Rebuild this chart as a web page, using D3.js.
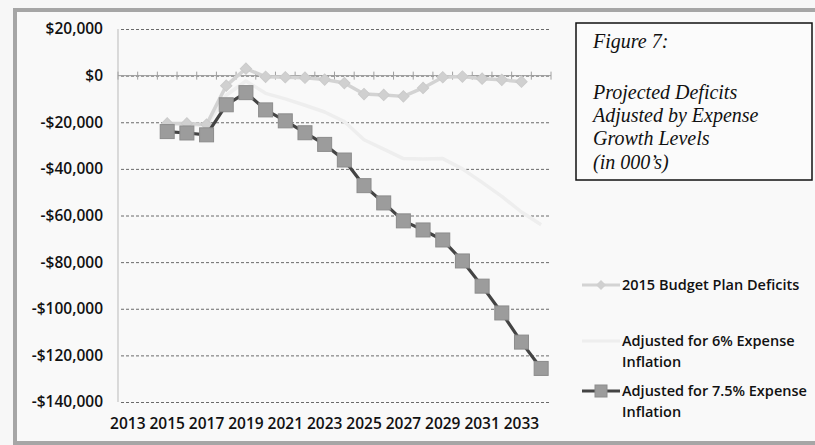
<!DOCTYPE html>
<html>
<head>
<meta charset="utf-8">
<script src="https://cdn.jsdelivr.net/npm/d3@7/dist/d3.min.js"></script>
<style>
  html, body { margin: 0; padding: 0; background: #f7f7f7; }
  svg { display: block; }
</style>
</head>
<body>
<svg id="chart" width="815" height="445"></svg>
<script>
// ---------------- DATA ----------------
const categories = ["2013","2014","2015","2016","2017","2018","2019","2020","2021","2022","2023",
                    "2024","2025","2026","2027","2028","2029","2030","2031","2032","2033","2034"];
const xTickLabels = ["2013","2015","2017","2019","2021","2023","2025","2027","2029","2031","2033"];
const yTicks = [20000, 0, -20000, -40000, -60000, -80000, -100000, -120000, -140000];

const budgetPlan = [null, null, -20500, -20500, -21000, -4300, 3000, -500, -700, -900, -1700,
                    -3200, -7900, -8300, -8900, -5300, -700, -400, -1300, -1800, -2600, null];
const adjusted6 = [null, null, -20800, -21000, -21500, -8400, -2300, -7600, -10000, -12700, -15600,
                   -19700, -27500, -31500, -35600, -35800, -35600, -40000, -45800, -51800, -58500, -64000];
const adjusted75 = [null, null, -24000, -24600, -25400, -12500, -7300, -14700, -19400, -24500, -29500,
                    -36200, -47200, -54600, -62300, -66200, -70500, -79500, -90300, -101800, -114300, -125600];

const seriesNames = ["2015 Budget Plan Deficits", "Adjusted for 6% Expense Inflation", "Adjusted for 7.5% Expense Inflation"];
const titleLines = ["Figure 7:", "", "Projected Deficits", "Adjusted by Expense", "Growth Levels", "(in 000\u2019s)"];

// ---------------- LAYOUT ----------------
const svg = d3.select("#chart");
const L = 118, R = 551, T = 29, B = 402;
const labelFont = "'Open Sans', 'Liberation Sans', sans-serif";

// outer frame
svg.append("rect").attr("x", 0).attr("y", 0).attr("width", 815).attr("height", 445).attr("fill", "#f7f7f7");
svg.append("rect").attr("x", 15).attr("y", 10).attr("width", 820).attr("height", 433)
  .attr("fill", "#f9f9f9").attr("stroke", "#a6a6a6").attr("stroke-width", 4);

const x = d3.scaleBand().domain(categories).range([L, R]);
const y = d3.scaleLinear().domain([-140000, 20000]).range([B, T]);

function fmt(v) {
  if (v === 0) return "$0";
  const s = d3.format(",")(Math.abs(v));
  return (v < 0 ? "-$" : "$") + s;
}

// gridlines + y labels
const yAxis = svg.append("g").attr("transform", `translate(${L},0)`)
  .call(d3.axisLeft(y).tickValues(yTicks).tickFormat(fmt).tickSize(0).tickPadding(15));
yAxis.select(".domain").remove();
yAxis.selectAll("text").attr("font-family", labelFont).attr("font-weight", 600)
  .attr("font-size", 15.5).attr("fill", "#111");

const grid = svg.append("g").attr("transform", `translate(${L},0)`)
  .call(d3.axisLeft(y).tickValues(yTicks).tickFormat("").tickSize(-(R - L)).tickSizeOuter(0));
grid.select(".domain").remove();
grid.selectAll("line").attr("stroke", "#6a6a6a").attr("stroke-width", 1)
  .attr("stroke-dasharray", "3,2").attr("x1", 3);

// vertical axis line
svg.append("line").attr("x1", L).attr("x2", L).attr("y1", T).attr("y2", B)
  .attr("stroke", "#c4c4c4").attr("stroke-width", 1.2);

// horizontal category axis at zero, with tick marks at category boundaries
const zeroY = y(0);
svg.append("line").attr("x1", L).attr("x2", R).attr("y1", zeroY).attr("y2", zeroY)
  .attr("stroke", "#9a9a9a").attr("stroke-width", 1);
const boundaries = categories.map(c => x(c)).concat([x(categories[categories.length - 1]) + x.bandwidth()]);
svg.append("g").selectAll("line").data(boundaries).join("line")
  .attr("x1", d => d).attr("x2", d => d).attr("y1", zeroY - 4).attr("y2", zeroY + 4)
  .attr("stroke", "#a0a0a0").attr("stroke-width", 1);

// x labels at bottom
const xAxis = svg.append("g").attr("transform", `translate(0,${B})`)
  .call(d3.axisBottom(x).tickValues(xTickLabels).tickSize(0).tickPadding(16));
xAxis.select(".domain").remove();
xAxis.selectAll("text").attr("font-family", labelFont).attr("font-weight", 600)
  .attr("font-size", 15.5).attr("fill", "#111");

// ---------------- SERIES ----------------
const cx = c => x(c) + x.bandwidth() / 2;
function pts(arr) { return categories.map((c, i) => ({ c, v: arr[i] })).filter(d => d.v !== null); }
const line = d3.line().x(d => cx(d.c)).y(d => y(d.v));

// 6% series (very faint)
const p6 = pts(adjusted6);
svg.append("path").attr("d", line(p6)).attr("fill", "none")
  .attr("stroke", "#eeeeee").attr("stroke-width", 3.5).attr("stroke-linejoin", "round");

// budget plan series
const pb = pts(budgetPlan);
svg.append("path").attr("d", line(pb)).attr("fill", "none")
  .attr("stroke", "#d3d3d3").attr("stroke-width", 3.5).attr("stroke-linejoin", "round");
svg.append("g").selectAll("path").data(pb).join("path")
  .attr("d", d3.symbol(d3.symbolSquare, 64)())
  .attr("transform", d => `translate(${cx(d.c)},${y(d.v)}) rotate(45)`)
  .attr("fill", "#d0d0d0").attr("stroke", "#cbcbcb").attr("stroke-width", 1);

// 7.5% series
const p75 = pts(adjusted75);
svg.append("path").attr("d", line(p75)).attr("fill", "none")
  .attr("stroke", "#444").attr("stroke-width", 3.2).attr("stroke-linejoin", "round");
svg.append("g").selectAll("rect").data(p75).join("rect")
  .attr("x", d => cx(d.c) - 7).attr("y", d => y(d.v) - 7)
  .attr("width", 14).attr("height", 14)
  .attr("fill", "#9c9c9c").attr("stroke", "#8c8c8c").attr("stroke-width", 1);

// ---------------- TITLE BOX ----------------
svg.append("rect").attr("x", 576).attr("y", 23).attr("width", 236).attr("height", 157)
  .attr("fill", "#fbfbfb").attr("stroke", "#111").attr("stroke-width", 1.5);
const titleBase = [48, 0, 99, 122, 145, 169];
svg.append("g").selectAll("text").data(titleLines.map((t, i) => ({ t, yy: titleBase[i] })).filter(d => d.t))
  .join("text").attr("x", 593).attr("y", d => d.yy).text(d => d.t)
  .attr("font-family", "'Liberation Serif', 'Times New Roman', serif").attr("font-style", "italic")
  .attr("font-size", 20).attr("fill", "#111");

// ---------------- LEGEND ----------------
const lg = svg.append("g");
const legendTextX = 622;
function legendText(lines, cy) {
  lines.forEach((t, i) => {
    lg.append("text").attr("x", legendTextX).attr("y", cy + i * 20.5).attr("dy", "0.35em").text(t)
      .attr("font-family", labelFont).attr("font-weight", 600).attr("font-size", 14.5).attr("fill", "#111");
  });
}
// budget
lg.append("line").attr("x1", 582).attr("x2", 620).attr("y1", 285).attr("y2", 285)
  .attr("stroke", "#d3d3d3").attr("stroke-width", 3);
lg.append("path").attr("d", d3.symbol(d3.symbolSquare, 50)()).attr("transform", "translate(601,285) rotate(45)")
  .attr("fill", "#d0d0d0");
legendText([seriesNames[0]], 285);
// 6%
lg.append("line").attr("x1", 582).attr("x2", 620).attr("y1", 341).attr("y2", 341)
  .attr("stroke", "#eeeeee").attr("stroke-width", 3);
legendText(["Adjusted for 6% Expense", "Inflation"], 341);
// 7.5%
lg.append("line").attr("x1", 582).attr("x2", 620).attr("y1", 391).attr("y2", 391)
  .attr("stroke", "#444").attr("stroke-width", 3);
lg.append("rect").attr("x", 595).attr("y", 385).attr("width", 12).attr("height", 12)
  .attr("fill", "#9c9c9c").attr("stroke", "#8c8c8c");
legendText(["Adjusted for 7.5% Expense", "Inflation"], 391);
</script>
</body>
</html>
